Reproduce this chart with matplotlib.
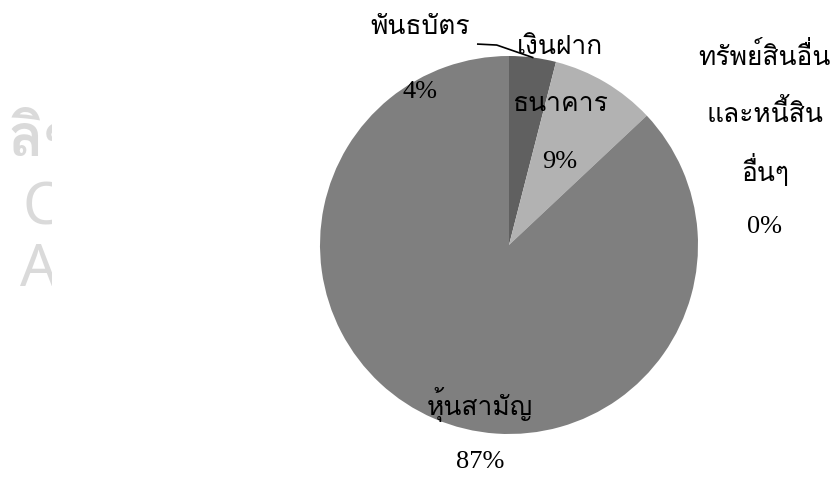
import numpy as np
import matplotlib
matplotlib.use("Agg")
import matplotlib.pyplot as plt

# portfolio breakdown (percent of net assets)
labels = ["พันธบัตร", "เงินฝาก\nธนาคาร", "ทรัพย์สินอื่น\nและหนี้สิน\nอื่นๆ", "หุ้นสามัญ"]
values = [4, 9, 0, 87]
colors = ["#606060", "#b2b2b2", "#9a9a9a", "#7f7f7f"]

# centre of each label block (data units, pie radius = 1)
label_pos = [(-0.47, 0.98), (0.27, 0.741), (1.354, 0.548), (-0.153, -0.997)]
line_step = 0.302

# Latin digits from the Times-like face, Thai glyphs from Loma
thai_serif = ["Liberation Serif", "Loma", "DejaVu Serif"]
thai_sans = ["Noto Sans", "Loma", "DejaVu Sans"]

W, H = 838, 479
fig = plt.figure(figsize=(W / 100, H / 100), dpi=100)

# pie centred at (509, 245) px with radius 189 px
cx, cy, r = 509, 245, 189
ax = fig.add_axes([(cx - r) / W, (H - cy - r) / H, 2 * r / W, 2 * r / H])

wedges, _ = ax.pie(values, colors=colors, startangle=90, counterclock=False,
                   radius=1, wedgeprops=dict(linewidth=0))
ax.set_xlim(-1, 1)
ax.set_ylim(-1, 1)
ax.set_aspect("equal")
ax.axis("off")


def block(x, y, lines, step):
    n = len(lines)
    for k, s in enumerate(lines):
        yy = y + (n - 1) / 2 * step - k * step
        ax.text(x, yy, s, ha="center", va="center", fontsize=19,
                family=thai_serif, clip_on=False)


for i, (lab, v) in enumerate(zip(labels, values)):
    x, y = label_pos[i]
    lines = lab.split("\n") + [f"{v}%"]
    if i == 0:
        # name sits outside with a leader line, value just inside the slice
        block(x, y, lines, 0.338)
        w = wedges[i]
        mid = np.deg2rad((w.theta1 + w.theta2) / 2)
        ex, ey = np.cos(mid), np.sin(mid)
        ax.plot([-0.165, -0.065, ex], [1.063, 1.058, ey], color="black",
                lw=1.2, clip_on=False)
    else:
        block(x, y, lines, line_step)

# faint watermark at the left margin, cut off at its right side
wm = fig.add_axes([0, 0, 52 / W, 1])
wm.set_xlim(0, 52)
wm.set_ylim(H, 0)
wm.axis("off")
wm_color = "#dadada"
wm.text(9, 156, "ลิขสิทธิ์", fontsize=42, color=wm_color, family=thai_sans,
        fontweight="bold", va="baseline", clip_on=True)
wm.text(22, 224, "Copyright", fontsize=42, color=wm_color, family=thai_sans,
        va="baseline", clip_on=True)
wm.text(20, 286, "All rights", fontsize=42, color=wm_color, family=thai_sans,
        va="baseline", clip_on=True)

fig.savefig("out.png", dpi=100)
